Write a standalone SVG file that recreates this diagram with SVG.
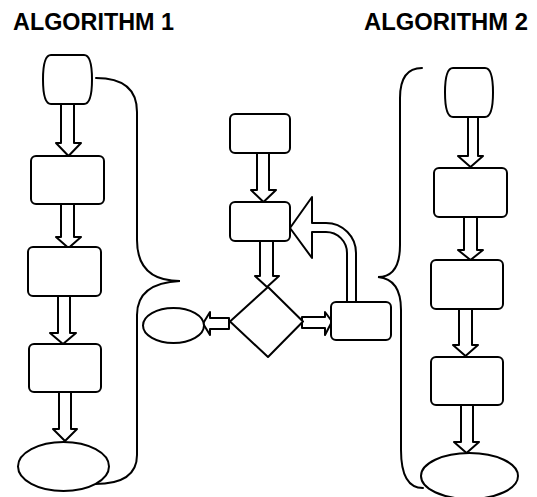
<svg xmlns="http://www.w3.org/2000/svg" width="537" height="497" viewBox="0 0 537 497">
  <style>
    .shape { fill: #fff; stroke: #000; stroke-width: 2; stroke-linejoin: round; }
    .brace { fill: none; stroke: #000; stroke-width: 2; stroke-linecap: round; }
    .title { font-family: "Liberation Sans", Arial, sans-serif; font-weight: bold; font-size: 23px; fill: #000; }
  </style>
  <rect width="537" height="497" fill="#fff"/>

  <!-- headings -->
  <text class="title" x="13" y="30" textLength="161" lengthAdjust="spacingAndGlyphs">ALGORITHM 1</text>
  <text class="title" x="364" y="30" textLength="164" lengthAdjust="spacingAndGlyphs">ALGORITHM 2</text>

  <!-- curly braces grouping each algorithm -->
  <g id="braces">
    <path class="brace" d="M96,78 Q137,78 137,112 V240 Q137,281 180,281 Q137,283 137,315 V455 Q137,484 95,484"/>
    <path class="brace" d="M422,68 Q400,68 400,98 V245 Q400,277 378,277 Q401,279 401,310 V450 Q401,488 423,488"/>
  </g>

  <!-- block arrows -->
  <g id="connectors">
    <!-- algorithm 1 column -->
    <path class="shape" d="M61,102 V143 H56 L68.5,156 L81,143 H74 V102 Z"/>
    <path class="shape" d="M61,202 V237 H56 L68.5,248 L81,237 H74 V202 Z"/>
    <path class="shape" d="M58,294 V333 H50 L63,344 L76,333 H70 V294 Z"/>
    <path class="shape" d="M59,390 V429 H53 L65,441 L77,429 H71 V390 Z"/>
    <!-- central flow -->
    <path class="shape" d="M257,151 V190 H251 L263.5,202 L276,190 H269 V151 Z"/>
    <path class="shape" d="M260,239 V276 H255 L267,287 L279,276 H273 V239 Z"/>
    <path class="shape" d="M229,318 H210 V312 L203,323.5 L210,335 V329 H229 Z"/>
    <path class="shape" d="M302,317 H325 V312 L332,321.5 L325,335 V328 H302 Z"/>
    <path class="shape" d="M356,303 V253 A30,30 0 0 0 326,223 H312 V197 L290,228 L312,258 V232 H326 A21,21 0 0 1 347,253 V303 Z"/>
    <!-- algorithm 2 column -->
    <path class="shape" d="M468,115 V156 H458 L470.5,167 L483,156 H478 V115 Z"/>
    <path class="shape" d="M464,215 V250 H458 L470.5,260 L483,250 H477 V215 Z"/>
    <path class="shape" d="M459,307 V345 H453 L465.5,356 L478,345 H472 V307 Z"/>
    <path class="shape" d="M461,403 V442 H454 L466.5,453 L479,442 H473 V403 Z"/>
  </g>

  <!-- algorithm 1 -->
  <g id="a1-start"><path class="shape" d="M51,55 H84 C89,55 92,62 92,79.5 C92,97 89,104 84,104 H51 C46,104 43,97 43,79.5 C43,62 46,55 51,55 Z"/></g>
  <g id="a1-step1"><rect class="shape" x="31" y="156" width="73" height="48" rx="5"/></g>
  <g id="a1-step2"><rect class="shape" x="28" y="247" width="73" height="49" rx="5"/></g>
  <g id="a1-step3"><rect class="shape" x="29" y="344" width="72" height="48" rx="5"/></g>
  <g id="a1-end"><ellipse class="shape" cx="63.5" cy="466.5" rx="45.5" ry="24.5"/></g>

  <!-- central loop -->
  <g id="c-start"><rect class="shape" x="230" y="114" width="60" height="39" rx="5"/></g>
  <g id="c-process"><rect class="shape" x="230" y="202" width="60" height="39" rx="5"/></g>
  <g id="c-decision"><polygon class="shape" points="268,287 303,321.5 268,357 230,321.5"/></g>
  <g id="c-exit"><ellipse class="shape" cx="173.5" cy="325.5" rx="30.5" ry="17.5"/></g>
  <g id="c-update"><rect class="shape" x="331" y="302" width="60" height="38" rx="5"/></g>

  <!-- algorithm 2 -->
  <g id="a2-start"><path class="shape" d="M453,68 H485 C490,68 493,75 493,92.5 C493,110 490,117 485,117 H453 C448,117 445,110 445,92.5 C445,75 448,68 453,68 Z"/></g>
  <g id="a2-step1"><rect class="shape" x="434" y="168" width="73" height="49" rx="5"/></g>
  <g id="a2-step2"><rect class="shape" x="431" y="260" width="72" height="49" rx="5"/></g>
  <g id="a2-step3"><rect class="shape" x="431" y="357" width="72" height="48" rx="5"/></g>
  <g id="a2-end"><ellipse class="shape" cx="469.5" cy="476" rx="48.5" ry="23"/></g>
</svg>
